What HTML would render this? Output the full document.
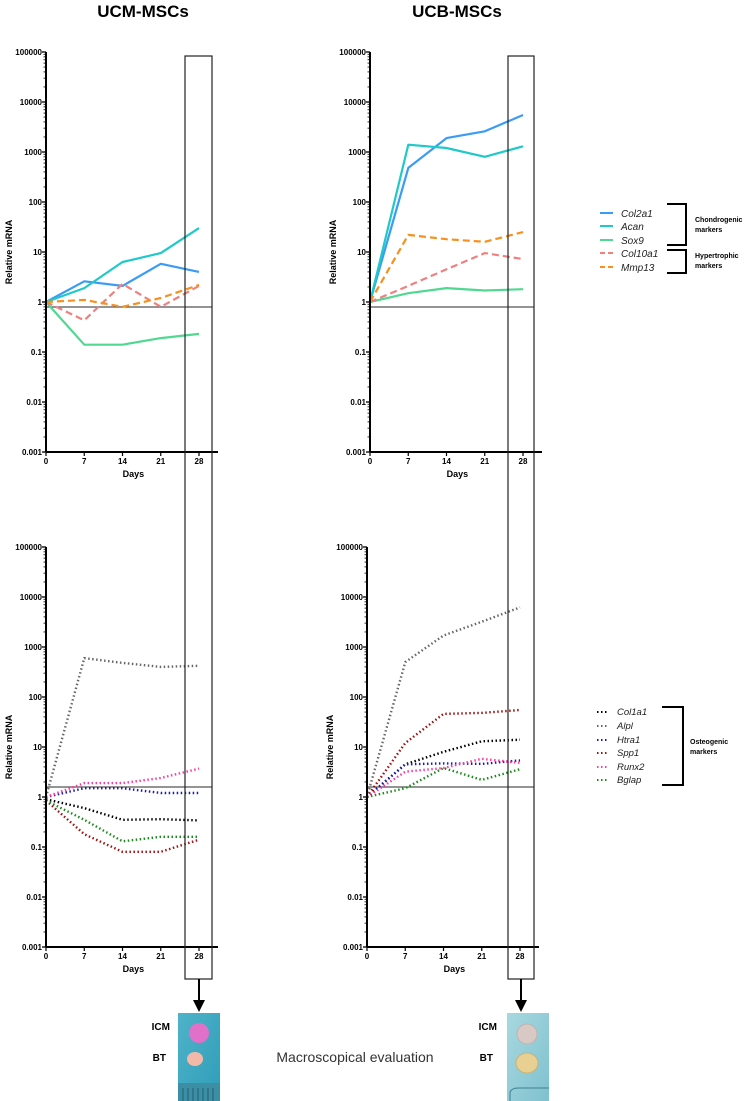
<!DOCTYPE html>
<html><head><meta charset="utf-8"><style>
body{margin:0;background:#fff;}
svg{display:block;font-family:"Liberation Sans",sans-serif;}
</style></head><body>
<svg id="fig" width="750" height="1101" viewBox="0 0 750 1101" xmlns="http://www.w3.org/2000/svg">
<text x="143" y="17" font-size="17" font-weight="bold" text-anchor="middle">UCM-MSCs</text>
<text x="457" y="17" font-size="17" font-weight="bold" text-anchor="middle">UCB-MSCs</text>
<g id="charts"></g>
<!-- highlight boxes -->
<rect x="185" y="56" width="27" height="923" fill="none" stroke="#222" stroke-width="1.2"/>
<rect x="508" y="56" width="26" height="923" fill="none" stroke="#222" stroke-width="1.2"/>
<g><line x1="199" y1="979" x2="199" y2="1002" stroke="#000" stroke-width="2"/><polygon points="193,1000 205,1000 199,1012" fill="#000"/></g>
<g><line x1="521" y1="979" x2="521" y2="1002" stroke="#000" stroke-width="2"/><polygon points="515,1000 527,1000 521,1012" fill="#000"/></g>
<!-- photos -->
<defs>
<linearGradient id="tealL" x1="0" y1="0" x2="1" y2="1"><stop offset="0" stop-color="#4fb3c9"/><stop offset="1" stop-color="#2f9db8"/></linearGradient>
<linearGradient id="tealR" x1="0" y1="0" x2="1" y2="1"><stop offset="0" stop-color="#a8d8e0"/><stop offset="1" stop-color="#7fc1cf"/></linearGradient>
</defs>
<g>
<rect x="178" y="1013" width="42" height="88" fill="url(#tealL)"/>
<circle cx="199" cy="1033" r="10" fill="#e070c8"/>
<ellipse cx="195" cy="1059" rx="8" ry="7" fill="#f3b9a8"/>
<rect x="178" y="1083" width="42" height="18" fill="#3b8ea3"/>
<g stroke="#1d5563" stroke-width="0.8"><line x1="183" y1="1088" x2="183" y2="1101"/><line x1="188" y1="1088" x2="188" y2="1101"/><line x1="193" y1="1088" x2="193" y2="1101"/><line x1="198" y1="1088" x2="198" y2="1101"/><line x1="203" y1="1088" x2="203" y2="1101"/><line x1="208" y1="1088" x2="208" y2="1101"/><line x1="213" y1="1088" x2="213" y2="1101"/></g>
</g>
<g>
<rect x="507" y="1013" width="42" height="88" fill="url(#tealR)"/>
<circle cx="527" cy="1034" r="10" fill="#d9c9c4" stroke="#bfb3ae" stroke-width="1"/>
<ellipse cx="527" cy="1063" rx="11" ry="10" fill="#e8cf92" stroke="#c8b27a" stroke-width="1"/>
<path d="M510 1101 L510 1092 Q512 1088 518 1088 L549 1088" fill="none" stroke="#3f7f8f" stroke-width="1"/>
</g>
<text x="170" y="1030" font-size="10" font-weight="bold" text-anchor="end">ICM</text>
<text x="166" y="1061" font-size="10" font-weight="bold" text-anchor="end">BT</text>
<text x="497" y="1030" font-size="10" font-weight="bold" text-anchor="end">ICM</text>
<text x="493" y="1061" font-size="10" font-weight="bold" text-anchor="end">BT</text>
<text x="355" y="1062" font-size="14" fill="#333" text-anchor="middle">Macroscopical evaluation</text>
<!-- legends -->
<g font-size="10" font-style="italic" fill="#222">
<line x1="600" y1="213" x2="613" y2="213" stroke="#3a9cf5" stroke-width="2"/><text x="621" y="217">Col2a1</text>
<line x1="600" y1="226" x2="613" y2="226" stroke="#1fc9c9" stroke-width="2"/><text x="621" y="230">Acan</text>
<line x1="600" y1="240" x2="613" y2="240" stroke="#50d890" stroke-width="2"/><text x="621" y="244">Sox9</text>
<line x1="600" y1="253" x2="613" y2="253" stroke="#f08080" stroke-width="2" stroke-dasharray="5 3"/><text x="621" y="257">Col10a1</text>
<line x1="600" y1="267" x2="613" y2="267" stroke="#f7901e" stroke-width="2" stroke-dasharray="5 3"/><text x="621" y="271">Mmp13</text>
</g>
<path d="M667 204 H686 V245 H667" fill="none" stroke="#000" stroke-width="2"/>
<path d="M667 250 H686 V273 H667" fill="none" stroke="#000" stroke-width="2"/>
<g font-size="7" font-weight="bold"><text x="695" y="222">Chondrogenic</text><text x="695" y="232">markers</text>
<text x="695" y="258">Hypertrophic</text><text x="695" y="268">markers</text>
<text x="690" y="744">Osteogenic</text><text x="690" y="754">markers</text></g>
<g font-size="9.5" font-style="italic" fill="#222">
<line x1="597" y1="712" x2="609" y2="712" stroke="#000" stroke-width="2" stroke-dasharray="1.5 2.5"/><text x="617" y="715">Col1a1</text>
<line x1="597" y1="726" x2="609" y2="726" stroke="#666" stroke-width="2" stroke-dasharray="1.5 2.5"/><text x="617" y="729">Alpl</text>
<line x1="597" y1="740" x2="609" y2="740" stroke="#1a1ab0" stroke-width="2" stroke-dasharray="1.5 2.5"/><text x="617" y="743">Htra1</text>
<line x1="597" y1="753" x2="609" y2="753" stroke="#a01010" stroke-width="2" stroke-dasharray="1.5 2.5"/><text x="617" y="756">Spp1</text>
<line x1="597" y1="767" x2="609" y2="767" stroke="#ff3aa0" stroke-width="2" stroke-dasharray="1.5 2.5"/><text x="617" y="770">Runx2</text>
<line x1="597" y1="780" x2="609" y2="780" stroke="#1a8a1a" stroke-width="2" stroke-dasharray="1.5 2.5"/><text x="617" y="783">Bglap</text>
</g>
<path d="M662 707 H683 V785 H662" fill="none" stroke="#000" stroke-width="2"/>
</svg>
<script>
const days = [0, 7, 14, 21, 28];
const yTickLabels = ["0.001","0.01","0.1","1","10","100","1000","10000","100000"];
const xTickLabels = ["0","7","14","21","28"];
// top-left UCM chondro
const ucmCol2a1 = [1, 2.6, 2.1, 5.8, 4.0];
const ucmAcan = [1, 1.9, 6.3, 9.5, 30];
const ucmSox9 = [1, 0.14, 0.14, 0.19, 0.23];
const ucmCol10a1 = [1, 0.43, 2.3, 0.8, 2.1];
const ucmMmp13 = [1, 1.1, 0.8, 1.2, 2.2];
// top-right UCB chondro
const ucbCol2a1 = [1, 480, 1900, 2600, 5500];
const ucbAcan = [1, 1400, 1200, 800, 1300];
const ucbSox9 = [1, 1.5, 1.9, 1.7, 1.8];
const ucbCol10a1 = [1, 2.1, 4.5, 9.5, 7.2];
const ucbMmp13 = [1, 22, 18, 16, 25];
// bottom-left UCM osteo
const ucmCol1a1 = [0.9, 0.6, 0.35, 0.36, 0.34];
const ucmAlpl = [1, 600, 480, 400, 420];
const ucmHtra1 = [1, 1.5, 1.5, 1.2, 1.2];
const ucmSpp1 = [0.85, 0.18, 0.08, 0.08, 0.14];
const ucmRunx2 = [1, 1.9, 1.9, 2.4, 3.7];
const ucmBglap = [0.85, 0.35, 0.13, 0.16, 0.16];
// bottom-right UCB osteo
const ucbCol1a1 = [1, 4.5, 8, 13, 14];
const ucbAlpl = [1, 500, 1700, 3200, 6200];
const ucbHtra1 = [1, 4.5, 4.7, 4.6, 5.4];
const ucbSpp1 = [1, 12, 46, 48, 55];
const ucbRunx2 = [1, 3.2, 3.8, 5.8, 4.8];
const ucbBglap = [1, 1.5, 3.8, 2.2, 3.6];

const NS = "http://www.w3.org/2000/svg";
const root = document.getElementById("charts");
function mk(tag, attrs, parent){const e=document.createElementNS(NS,tag);for(const k in attrs)e.setAttribute(k,attrs[k]);(parent||root).appendChild(e);return e;}

const SOLID = "", DASH = "7 4", DOT = "1.5 2.5";
const panels = [
 {name:"ucm-chondro", ax:46, top:52, base:307, series:[
   ["col2a1",ucmCol2a1,"#3a9cf5",SOLID],["acan",ucmAcan,"#1fc9c9",SOLID],["sox9",ucmSox9,"#50d890",SOLID],
   ["col10a1",ucmCol10a1,"#f08080",DASH],["mmp13",ucmMmp13,"#f7901e",DASH]], boxR:212},
 {name:"ucb-chondro", ax:370, top:52, base:307, series:[
   ["col2a1",ucbCol2a1,"#3a9cf5",SOLID],["acan",ucbAcan,"#1fc9c9",SOLID],["sox9",ucbSox9,"#50d890",SOLID],
   ["col10a1",ucbCol10a1,"#f08080",DASH],["mmp13",ucbMmp13,"#f7901e",DASH]], boxR:534},
 {name:"ucm-osteo", ax:46, top:547, base:787, series:[
   ["col1a1",ucmCol1a1,"#000",DOT],["alpl",ucmAlpl,"#666",DOT],["htra1",ucmHtra1,"#1a1ab0",DOT],
   ["spp1",ucmSpp1,"#a01010",DOT],["runx2",ucmRunx2,"#ff3aa0",DOT],["bglap",ucmBglap,"#1a8a1a",DOT]], boxR:212},
 {name:"ucb-osteo", ax:367, top:547, base:787, series:[
   ["col1a1",ucbCol1a1,"#000",DOT],["alpl",ucbAlpl,"#666",DOT],["htra1",ucbHtra1,"#1a1ab0",DOT],
   ["spp1",ucbSpp1,"#a01010",DOT],["runx2",ucbRunx2,"#ff3aa0",DOT],["bglap",ucbBglap,"#1a8a1a",DOT]], boxR:534}
];
const DEC = 50, PXDAY = 153/28;

panels.forEach(p=>{
  const g = mk("g",{});
  
  
  const yS = v => p.top + (5 - Math.log10(v))*DEC;
  const xS = d => p.ax + d*PXDAY;
  const bottom = yS(0.001);
  // baseline grey
  const bl = mk("line",{x1:p.ax,y1:p.base,x2:p.boxR,y2:p.base,stroke:"#555","stroke-width":1.2},g);
  
  
  // series
  p.series.forEach(s=>{
    const pts = days.map((d,i)=>xS(d).toFixed(1)+","+yS(s[1][i]).toFixed(1)).join(" ");
    const pl = mk("polyline",{points:pts,fill:"none",stroke:s[2],"stroke-width":s[3]===DOT?2.4:2.2,"stroke-dasharray":s[3]||"none","stroke-linejoin":"round"},g);
    
    
  });
  // y axis
  const ya = mk("line",{x1:p.ax,y1:p.top,x2:p.ax,y2:bottom,stroke:"#000","stroke-width":2},g);
  
  
  yTickLabels.forEach((lab,i)=>{
    const v = Math.pow(10,i-3), y = yS(v);
    mk("line",{x1:p.ax-4,y1:y,x2:p.ax,y2:y,stroke:"#000","stroke-width":1.3},g);
    const t = mk("text",{x:p.ax-4,y:y+3,"font-size":8,"font-weight":"bold","text-anchor":"end"},g);
    t.textContent = lab;
    
    
    if(i<8){for(let m=2;m<10;m++){const ym=yS(v*m);mk("line",{x1:p.ax-2.5,y1:ym,x2:p.ax,y2:ym,stroke:"#000","stroke-width":0.8},g);}}
  });
  const yt = mk("text",{x:0,y:0,"font-size":9,"font-weight":"bold","text-anchor":"middle",transform:`translate(${p.ax-34},${p.top+200}) rotate(-90)`},g);
  yt.textContent = "Relative mRNA";
  
  
  // x axis
  const xa = mk("line",{x1:p.ax,y1:bottom,x2:p.ax+172,y2:bottom,stroke:"#000","stroke-width":2},g);
  
  
  days.forEach((d,i)=>{
    const x = xS(d);
    mk("line",{x1:x,y1:bottom,x2:x,y2:bottom+4,stroke:"#000","stroke-width":1.2},g);
    const t = mk("text",{x:x,y:bottom+12,"font-size":8,"font-weight":"bold","text-anchor":"middle"},g);
    t.textContent = xTickLabels[i];
    
    
  });
  const xt = mk("text",{x:xS(16),y:bottom+25,"font-size":9,"font-weight":"bold","text-anchor":"middle"},g);
  xt.textContent = "Days";
  
  
});
</script>
</body></html>
